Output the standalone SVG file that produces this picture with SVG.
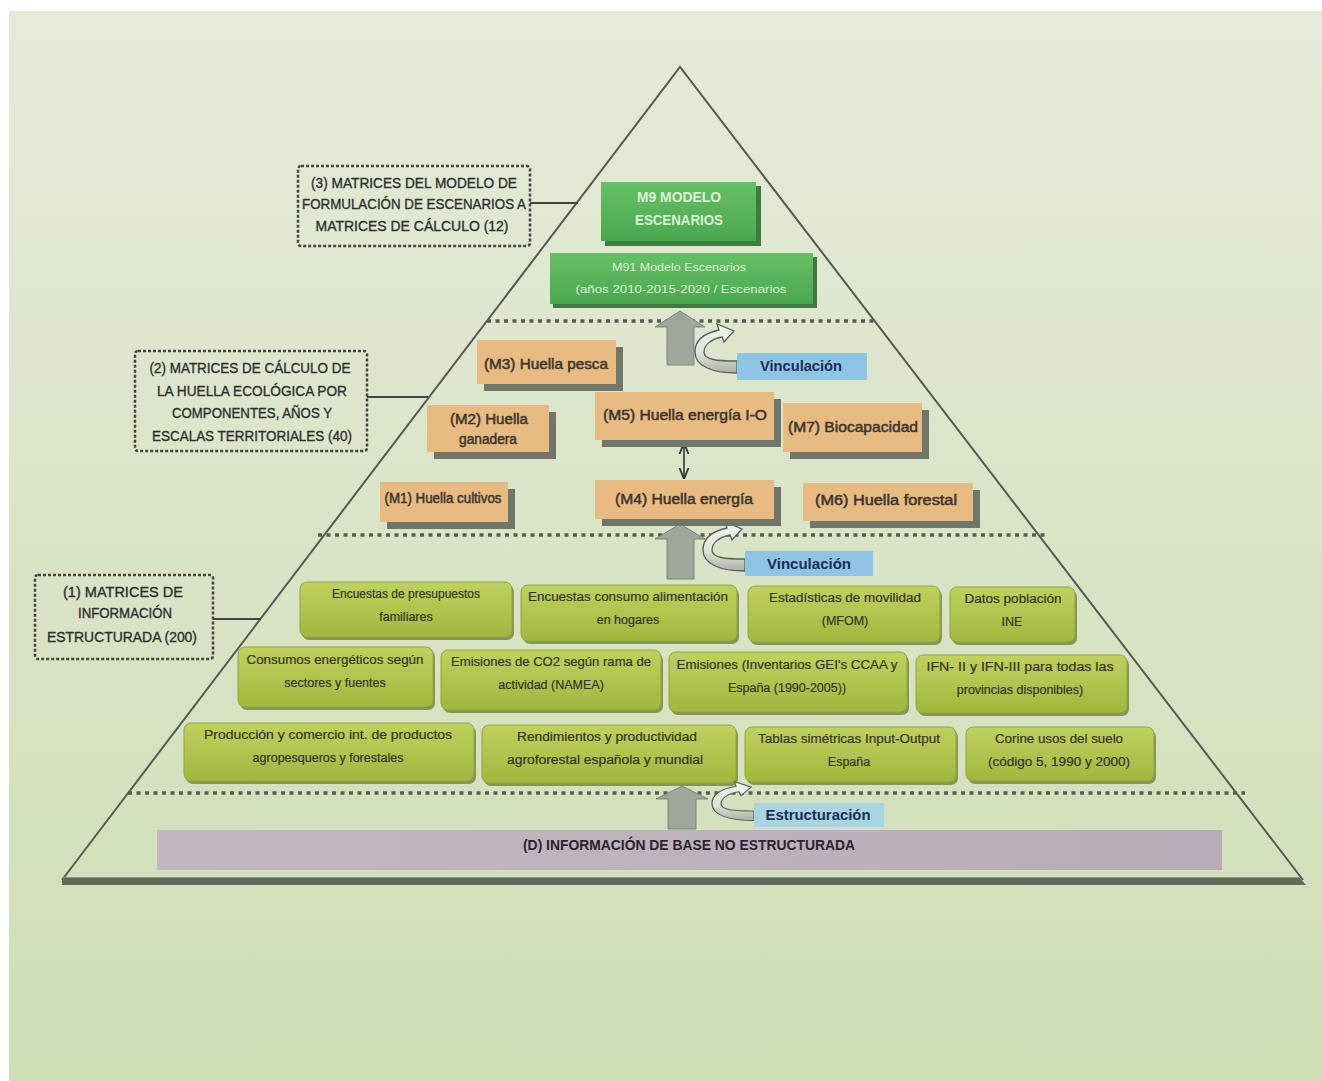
<svg xmlns="http://www.w3.org/2000/svg" width="1322" height="1081" viewBox="0 0 1322 1081">
  <defs>
    <linearGradient id="bg" x1="0" y1="0" x2="0" y2="1">
      <stop offset="0" stop-color="#e4ebd9"/>
      <stop offset="1" stop-color="#cfdeb5"/>
    </linearGradient>
    <linearGradient id="olive" x1="0" y1="0" x2="0" y2="1">
      <stop offset="0" stop-color="#c0d15e"/>
      <stop offset="1" stop-color="#a2b73e"/>
    </linearGradient>
    <linearGradient id="greenTop" x1="0" y1="0" x2="0" y2="1">
      <stop offset="0" stop-color="#66c066"/>
      <stop offset="1" stop-color="#4aa84e"/>
    </linearGradient>
    <linearGradient id="purple" x1="0" y1="0" x2="1" y2="0">
      <stop offset="0" stop-color="#c2b8c2"/>
      <stop offset="1" stop-color="#b7acb7"/>
    </linearGradient>
    <linearGradient id="band" x1="0" y1="0" x2="0" y2="1">
      <stop offset="0" stop-color="#f2f5ec"/>
      <stop offset="0.6" stop-color="#dfe4d8"/>
      <stop offset="1" stop-color="#aab0a4"/>
    </linearGradient>
    <!-- curved "link" arrow, origin at the left-middle of its label -->
    <path id="curl" d="M0,7 C-25,7 -42,0 -42,-14 C-42,-26 -32,-33 -18,-36 L-20,-42 L-3,-35 L-13,-24 L-15,-29 C-26,-27 -33,-21 -33,-14 C-33,-6 -20,-5 0,-5 Z"/>
    <marker id="ah" viewBox="0 0 10 10" refX="9" refY="5" markerWidth="7" markerHeight="7" orient="auto-start-reverse">
      <path d="M0,1 L10,5 L0,9" fill="none" stroke="#333" stroke-width="1.6"/>
    </marker>
  </defs>
  <style>
    .lbl { fill: none; stroke: #444; stroke-width: 2.5; stroke-dasharray: 3 2; }
    .lbltxt { font-family: "Liberation Sans", Arial, sans-serif; font-size: 15px; fill: #2e2e2e; stroke: #2e2e2e; stroke-width: 0.35; text-anchor: middle; }
    .link { stroke: #444; stroke-width: 2; fill: none; }
    .dots { stroke: #575d52; stroke-width: 3.5; stroke-dasharray: 4 4.5; fill: none; }
    .tan { fill: #e8bb83; }
    .tanshadow { fill: #6f766a; }
    .tantxt { font-family: "Liberation Sans", Arial, sans-serif; font-size: 14px; fill: #3c362e; stroke: #3c362e; stroke-width: 0.5; text-anchor: middle; }
    .olive { fill: url(#olive); stroke: #93a63a; stroke-width: 1; }
    .oliveshadow { fill: #6d7a3a; opacity: 0.75; }
    .otxt { font-family: "Liberation Sans", Arial, sans-serif; font-size: 12.5px; fill: #33352a; stroke: #33352a; stroke-width: 0.2; text-anchor: middle; }
    .gtxt { font-family: "Liberation Sans", Arial, sans-serif; fill: #dcf0d4; text-anchor: middle; }
    .blk { fill: #9ea79a; stroke: #7d857a; stroke-width: 1; }
    .curl { fill: url(#band); stroke: #5c5f58; stroke-width: 1.3; }
    .tag { fill: #8ec4e6; }
    .tagtxt { font-family: "Liberation Sans", Arial, sans-serif; font-size: 14px; font-weight: bold; fill: #1f2c55; text-anchor: middle; }
  </style>

  <!-- page -->
  <rect x="0" y="0" width="1322" height="1081" fill="#ffffff"/>
  <rect x="9" y="11" width="1313" height="1070" fill="url(#bg)"/>

  <!-- pyramid outline and base -->
  <g id="pyramid">
    <polyline points="62,880 680,67 1303,880" fill="none" stroke="#555b52" stroke-width="2"/>
    <polygon points="62,877 1299,877 1306,885 62,885" fill="#5f6b58"/>
    <line x1="62" y1="877.5" x2="1299" y2="877.5" stroke="#8a9583" stroke-width="1"/>
  </g>

  <!-- layer separators -->
  <g id="separators">
    <line class="dots" x1="487" y1="321" x2="874" y2="321"/>
    <line class="dots" x1="318" y1="535" x2="1048" y2="535"/>
    <line class="dots" x1="128" y1="793" x2="1245" y2="793"/>
  </g>

  <!-- connectors -->
  <g id="connectors">
    <line class="link" x1="530" y1="203" x2="578" y2="203"/>
    <line class="link" x1="367" y1="397" x2="428" y2="397"/>
    <line class="link" x1="213" y1="619" x2="261" y2="619"/>
    <line x1="684" y1="444" x2="684" y2="478" stroke="#333" stroke-width="1.6" marker-start="url(#ah)" marker-end="url(#ah)"/>
  </g>

  <!-- level labels -->
  <g id="label-3">
    <rect class="lbl" x="298" y="166" width="232" height="80" rx="3"/>
    <text class="lbltxt" x="414" y="188" textLength="206" lengthAdjust="spacingAndGlyphs">(3) MATRICES DEL MODELO DE</text>
    <text class="lbltxt" x="414" y="209" textLength="224" lengthAdjust="spacingAndGlyphs">FORMULACIÓN DE ESCENARIOS A</text>
    <text class="lbltxt" x="412" y="231" textLength="193" lengthAdjust="spacingAndGlyphs">MATRICES DE CÁLCULO (12)</text>
  </g>
  <g id="label-2">
    <rect class="lbl" x="135" y="351" width="232" height="100" rx="3"/>
    <text class="lbltxt" x="250" y="373" textLength="201" lengthAdjust="spacingAndGlyphs">(2) MATRICES DE CÁLCULO DE</text>
    <text class="lbltxt" x="252" y="396" textLength="190" lengthAdjust="spacingAndGlyphs">LA HUELLA ECOLÓGICA POR</text>
    <text class="lbltxt" x="252" y="418" textLength="160" lengthAdjust="spacingAndGlyphs">COMPONENTES, AÑOS Y</text>
    <text class="lbltxt" x="252" y="441" textLength="200" lengthAdjust="spacingAndGlyphs">ESCALAS TERRITORIALES (40)</text>
  </g>
  <g id="label-1">
    <rect class="lbl" x="35" y="575" width="178" height="84" rx="3"/>
    <text class="lbltxt" x="123" y="597" textLength="120" lengthAdjust="spacingAndGlyphs">(1) MATRICES DE</text>
    <text class="lbltxt" x="125" y="618" textLength="94" lengthAdjust="spacingAndGlyphs">INFORMACIÓN</text>
    <text class="lbltxt" x="122" y="642" textLength="150" lengthAdjust="spacingAndGlyphs">ESTRUCTURADA (200)</text>
  </g>

  <!-- scenario model -->
  <g id="m9">
    <rect x="605" y="186" width="156" height="60" fill="#3f7a42"/>
    <rect x="601" y="182" width="155" height="59" fill="url(#greenTop)"/>
    <text class="gtxt" x="679" y="202" font-size="15" font-weight="bold" textLength="84" lengthAdjust="spacingAndGlyphs">M9 MODELO</text>
    <text class="gtxt" x="679" y="225" font-size="15" font-weight="bold" textLength="88" lengthAdjust="spacingAndGlyphs">ESCENARIOS</text>
  </g>
  <g id="m91">
    <rect x="553" y="257" width="264" height="51" fill="#3f7a42"/>
    <rect x="550" y="253" width="263" height="51" fill="url(#greenTop)"/>
    <text class="gtxt" x="679" y="271" font-size="11.5" textLength="134" lengthAdjust="spacingAndGlyphs">M91 Modelo Escenarios</text>
    <text class="gtxt" x="681" y="293" font-size="11.5" textLength="211" lengthAdjust="spacingAndGlyphs">(años 2010-2015-2020 / Escenarios</text>
  </g>

  <!-- link arrows between layers -->
  <g id="link-top">
    <polygon class="blk" points="667,365 667,327 655,327 680,311 705,327 694,327 694,365"/>
    <use href="#curl" class="curl" transform="translate(737,366)"/>
    <rect class="tag" x="737" y="353" width="130" height="27"/>
    <text class="tagtxt" x="801" y="371" textLength="82" lengthAdjust="spacingAndGlyphs">Vinculación</text>
  </g>
  <g id="link-mid">
    <polygon class="blk" points="667,579 667,539 655,539 680,524 705,539 694,539 694,579"/>
    <use href="#curl" class="curl" transform="translate(745,564)"/>
    <rect class="tag" x="745" y="551" width="128" height="25"/>
    <text class="tagtxt" x="809" y="569" textLength="84" lengthAdjust="spacingAndGlyphs">Vinculación</text>
  </g>
  <g id="link-base">
    <polygon class="blk" points="668,829 668,799 656,799 682,786 708,799 696,799 696,829"/>
    <use href="#curl" class="curl" transform="translate(754,815) scale(1,0.8)"/>
    <rect x="754" y="803" width="130" height="24" fill="#a8d5df"/>
    <text class="tagtxt" x="818" y="820" font-weight="normal" textLength="105" lengthAdjust="spacingAndGlyphs">Estructuración</text>
  </g>

  <!-- footprint matrices -->
  <g id="m3">
    <rect class="tanshadow" x="484" y="347" width="139" height="44"/>
    <rect class="tan" x="477" y="340" width="139" height="44"/>
    <text class="tantxt" x="546" y="369" textLength="124" lengthAdjust="spacingAndGlyphs">(M3) Huella pesca</text>
  </g>
  <g id="m2">
    <rect class="tanshadow" x="434" y="412" width="122" height="47"/>
    <rect class="tan" x="427" y="405" width="122" height="47"/>
    <text class="tantxt" x="489" y="424" textLength="78" lengthAdjust="spacingAndGlyphs">(M2) Huella</text>
    <text class="tantxt" x="488" y="444" textLength="58" lengthAdjust="spacingAndGlyphs">ganadera</text>
  </g>
  <g id="m5">
    <rect class="tanshadow" x="602" y="399" width="179" height="48"/>
    <rect class="tan" x="595" y="392" width="179" height="48"/>
    <text class="tantxt" x="685" y="420" textLength="164" lengthAdjust="spacingAndGlyphs">(M5) Huella energía I-O</text>
  </g>
  <g id="m7">
    <rect class="tanshadow" x="790" y="410" width="139" height="49"/>
    <rect class="tan" x="783" y="403" width="139" height="49"/>
    <text class="tantxt" x="853" y="432" textLength="130" lengthAdjust="spacingAndGlyphs">(M7) Biocapacidad</text>
  </g>
  <g id="m1">
    <rect class="tanshadow" x="387" y="489" width="128" height="40"/>
    <rect class="tan" x="380" y="482" width="128" height="40"/>
    <text class="tantxt" x="443" y="503" textLength="117" lengthAdjust="spacingAndGlyphs">(M1) Huella cultivos</text>
  </g>
  <g id="m4">
    <rect class="tanshadow" x="602" y="487" width="179" height="39"/>
    <rect class="tan" x="595" y="480" width="179" height="39"/>
    <text class="tantxt" x="684" y="504" textLength="138" lengthAdjust="spacingAndGlyphs">(M4) Huella energía</text>
  </g>
  <g id="m6">
    <rect class="tanshadow" x="810" y="490" width="170" height="38"/>
    <rect class="tan" x="803" y="483" width="170" height="38"/>
    <text class="tantxt" x="886" y="505" textLength="142" lengthAdjust="spacingAndGlyphs">(M6) Huella forestal</text>
  </g>

  <!-- structured information sources, row 1 -->
  <g id="src-presupuestos">
    <rect class="oliveshadow" x="302" y="585" width="212" height="55" rx="7"/>
    <rect class="olive" x="300" y="582" width="212" height="55" rx="7"/>
    <text class="otxt" x="406" y="598" textLength="148" lengthAdjust="spacingAndGlyphs">Encuestas de presupuestos</text>
    <text class="otxt" x="406" y="621">familiares</text>
  </g>
  <g id="src-alimentacion">
    <rect class="oliveshadow" x="523" y="588" width="216" height="56" rx="7"/>
    <rect class="olive" x="521" y="585" width="216" height="56" rx="7"/>
    <text class="otxt" x="628" y="601" textLength="200" lengthAdjust="spacingAndGlyphs">Encuestas consumo alimentación</text>
    <text class="otxt" x="628" y="624">en hogares</text>
  </g>
  <g id="src-movilidad">
    <rect class="oliveshadow" x="750" y="589" width="192" height="56" rx="7"/>
    <rect class="olive" x="748" y="586" width="192" height="56" rx="7"/>
    <text class="otxt" x="845" y="602" textLength="152" lengthAdjust="spacingAndGlyphs">Estadísticas de movilidad</text>
    <text class="otxt" x="845" y="625">(MFOM)</text>
  </g>
  <g id="src-poblacion">
    <rect class="oliveshadow" x="952" y="590" width="125" height="55" rx="7"/>
    <rect class="olive" x="950" y="587" width="125" height="55" rx="7"/>
    <text class="otxt" x="1013" y="603" textLength="97" lengthAdjust="spacingAndGlyphs">Datos población</text>
    <text class="otxt" x="1012" y="626">INE</text>
  </g>

  <!-- row 2 -->
  <g id="src-consumos">
    <rect class="oliveshadow" x="240" y="650" width="195" height="60" rx="7"/>
    <rect class="olive" x="238" y="647" width="195" height="60" rx="7"/>
    <text class="otxt" x="335" y="664" textLength="177" lengthAdjust="spacingAndGlyphs">Consumos energéticos según</text>
    <text class="otxt" x="335" y="687">sectores y fuentes</text>
  </g>
  <g id="src-namea">
    <rect class="oliveshadow" x="443" y="653" width="220" height="60" rx="7"/>
    <rect class="olive" x="441" y="650" width="220" height="60" rx="7"/>
    <text class="otxt" x="551" y="666" textLength="200" lengthAdjust="spacingAndGlyphs">Emisiones de CO2 según rama de</text>
    <text class="otxt" x="551" y="689">actividad (NAMEA)</text>
  </g>
  <g id="src-gei">
    <rect class="oliveshadow" x="671" y="655" width="238" height="60" rx="7"/>
    <rect class="olive" x="669" y="652" width="238" height="60" rx="7"/>
    <text class="otxt" x="787" y="669" textLength="221" lengthAdjust="spacingAndGlyphs">Emisiones (Inventarios GEI's CCAA  y</text>
    <text class="otxt" x="787" y="692">España (1990-2005))</text>
  </g>
  <g id="src-ifn">
    <rect class="oliveshadow" x="918" y="658" width="211" height="58" rx="7"/>
    <rect class="olive" x="916" y="655" width="211" height="58" rx="7"/>
    <text class="otxt" x="1020" y="671" textLength="187" lengthAdjust="spacingAndGlyphs">IFN- II y IFN-III para todas las</text>
    <text class="otxt" x="1020" y="694">provincias disponibles)</text>
  </g>

  <!-- row 3 -->
  <g id="src-comercio">
    <rect class="oliveshadow" x="186" y="726" width="290" height="58" rx="7"/>
    <rect class="olive" x="184" y="723" width="290" height="58" rx="7"/>
    <text class="otxt" x="328" y="739" textLength="248" lengthAdjust="spacingAndGlyphs">Producción y comercio int. de productos</text>
    <text class="otxt" x="328" y="762">agropesqueros y forestales</text>
  </g>
  <g id="src-rendimientos">
    <rect class="oliveshadow" x="484" y="728" width="254" height="58" rx="7"/>
    <rect class="olive" x="482" y="725" width="254" height="58" rx="7"/>
    <text class="otxt" x="607" y="741" textLength="180" lengthAdjust="spacingAndGlyphs">Rendimientos y productividad</text>
    <text class="otxt" x="605" y="764" textLength="196" lengthAdjust="spacingAndGlyphs">agroforestal española y mundial</text>
  </g>
  <g id="src-inputoutput">
    <rect class="oliveshadow" x="747" y="730" width="211" height="55" rx="7"/>
    <rect class="olive" x="745" y="727" width="211" height="55" rx="7"/>
    <text class="otxt" x="849" y="743" textLength="182" lengthAdjust="spacingAndGlyphs">Tablas simétricas Input-Output</text>
    <text class="otxt" x="849" y="766">España</text>
  </g>
  <g id="src-corine">
    <rect class="oliveshadow" x="968" y="730" width="188" height="54" rx="7"/>
    <rect class="olive" x="966" y="727" width="188" height="54" rx="7"/>
    <text class="otxt" x="1059" y="743" textLength="128" lengthAdjust="spacingAndGlyphs">Corine usos del suelo</text>
    <text class="otxt" x="1059" y="766" textLength="142" lengthAdjust="spacingAndGlyphs">(código 5, 1990 y 2000)</text>
  </g>

  <!-- unstructured base information -->
  <g id="base-info">
    <rect x="157" y="830" width="1065" height="40" fill="url(#purple)"/>
    <text x="689" y="850" font-family="Liberation Sans, Arial, sans-serif" font-size="15" font-weight="bold" fill="#2a2430" text-anchor="middle" textLength="332" lengthAdjust="spacingAndGlyphs">(D) INFORMACIÓN DE BASE NO ESTRUCTURADA</text>
  </g>
</svg>
